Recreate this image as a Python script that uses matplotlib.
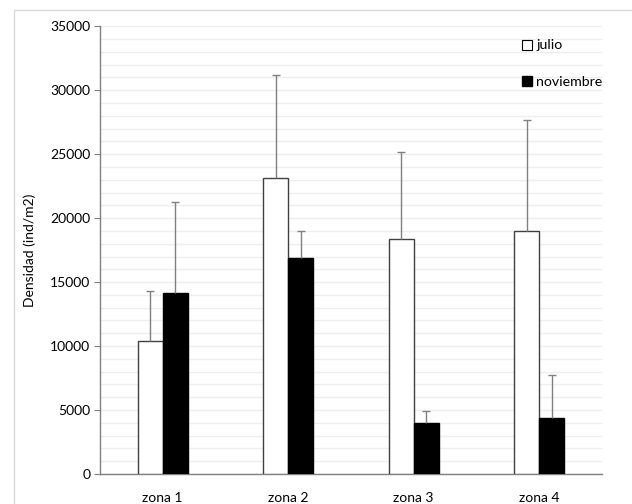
import numpy as np
import matplotlib as mpl
mpl.use('Agg')
import matplotlib.pyplot as plt
from matplotlib.lines import Line2D
from matplotlib.patches import Rectangle

plt.rcParams['font.family'] = ['Lato', 'DejaVu Sans']
plt.rcParams['font.size'] = 10

# data
zonas = ['zona 1', 'zona 2', 'zona 3', 'zona 4']
julio = [10400, 23150, 18400, 19000]
julio_err = [3900, 8050, 6750, 8700]
noviembre = [14150, 16850, 3950, 4350]
noviembre_err = [7100, 2130, 1000, 3380]

fig = plt.figure(figsize=(6.32, 5.04), dpi=100)
ax = fig.add_axes([0.158, 0.0595, 0.7945, 0.8885])

x = np.arange(len(zonas))
w = 0.2
err_kw = dict(ecolor='#808080', elinewidth=1, capsize=3, capthick=1)
b1 = ax.bar(x - w / 2, julio, w, color='white', edgecolor='#404040', linewidth=1,
            yerr=[np.zeros(len(julio)), julio_err], error_kw=err_kw, zorder=3)
b2 = ax.bar(x + w / 2, noviembre, w, color='black', edgecolor='black', linewidth=1,
            yerr=[np.zeros(len(noviembre)), noviembre_err], error_kw=err_kw, zorder=3)
# only the upper cap is shown
for b in (b1, b2):
    b.errorbar.lines[1][0].set_visible(False)

ax.set_xlim(-0.5, 3.5)
ax.set_ylim(0, 35000)
ax.set_yticks(np.arange(0, 35001, 5000))
ax.set_yticks(np.arange(0, 35001, 1000), minor=True)
ax.yaxis.grid(True, which='both', color='#eeeeee', linewidth=1, linestyle='-', zorder=0)
ax.set_axisbelow(True)
ax.set_xticks(x)
ax.set_xticklabels(zonas)
ax.tick_params(axis='x', length=0, pad=13)
ax.tick_params(axis='y', which='major', length=4, color='#808080', pad=3)
ax.tick_params(axis='y', which='minor', length=0)
for s in ['top', 'right']:
    ax.spines[s].set_visible(False)
for s in ['left', 'bottom']:
    ax.spines[s].set_color('#808080')
    ax.spines[s].set_linewidth(1)
ax.set_ylabel('Densidad (ind/m2)', labelpad=10)

handles = [Line2D([], [], marker='s', linestyle='none', markersize=7,
                  markerfacecolor='white', markeredgecolor='black', markeredgewidth=0.8),
           Line2D([], [], marker='s', linestyle='none', markersize=7,
                  markerfacecolor='black', markeredgecolor='black')]
ax.legend(handles, ['julio', 'noviembre'], loc='upper left',
          bbox_to_anchor=(0.83, 0.983), frameon=False, handlelength=0.6,
          handletextpad=0.4, labelspacing=1.75, borderaxespad=0, fontsize=10.2)

fig.patches.append(Rectangle((14 / 632, -0.1), 1.2, 1.08, transform=fig.transFigure,
                             fill=False, edgecolor='#d9d9d9', linewidth=1))

fig.savefig('out.png', dpi=100)
